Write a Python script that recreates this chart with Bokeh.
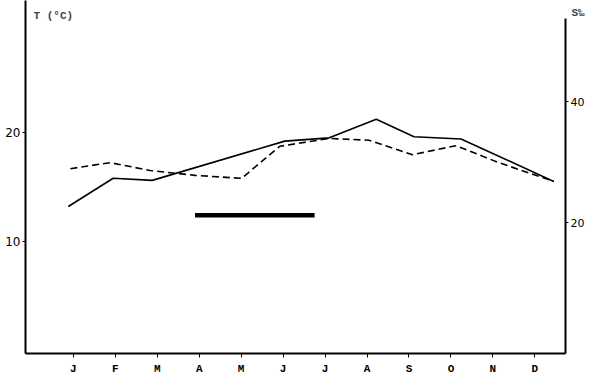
from bokeh.plotting import figure
from bokeh.models import Range1d, LinearAxis, FixedTicker, Label
from bokeh.embed import file_html
from bokeh.resources import INLINE

months = ["J", "F", "M", "A", "M", "J", "J", "A", "S", "O", "N", "D"]
month_pos = list(range(1, 13))

temp_x = [0.88, 1.95, 2.88, 6.04, 7.1, 8.22, 9.12, 10.24, 12.45]
temp_y = [13.2, 15.8, 15.6, 19.2, 19.5, 21.2, 19.6, 19.4, 15.5]

sal_x = [0.93, 1.88, 2.83, 3.9, 5.01, 5.92, 7.1, 8.05, 9.08, 10.12, 11.14, 12.45]
sal_y = [28.9, 29.9, 28.6, 27.8, 27.3, 32.6, 33.9, 33.6, 31.2, 32.7, 29.9, 26.8]

bar_x = [3.9, 6.75]
bar_t = [12.4, 12.4]

left_ticks = [10, 20]
right_ticks = [20, 40]

p = figure(width=600, height=378, output_backend="svg", toolbar_location=None,
           x_range=Range1d(-0.14, 12.73), y_range=Range1d(-0.28, 32.1),
           min_border_left=25, min_border_right=0, min_border_top=0, min_border_bottom=25)
p.outline_line_color = None
p.grid.visible = False
p.background_fill_color = "white"
p.border_fill_color = "white"

p.extra_y_ranges = {"sal": Range1d(-1.65, 56.7)}

mono = "Liberation Mono"
sans = "DejaVu Sans"

# bottom axis
xa = p.xaxis[0]
xa.ticker = FixedTicker(ticks=month_pos)
xa.major_label_overrides = {i: m for i, m in zip(month_pos, months)}
xa.axis_line_width = 2
xa.major_tick_in = 0
xa.major_tick_out = 4
xa.minor_tick_out = 0
xa.minor_tick_in = 0
xa.major_label_standoff = 5
xa.major_label_text_font = mono
xa.major_label_text_font_style = "bold"
xa.major_label_text_font_size = "11px"
xa.major_label_text_color = "black"

# left axis
ya = p.yaxis[0]
ya.ticker = FixedTicker(ticks=left_ticks)
ya.axis_line_width = 2
ya.major_tick_in = 0
ya.major_tick_out = 3
ya.minor_tick_out = 0
ya.minor_tick_in = 0
ya.major_label_standoff = 2
ya.major_label_text_font = sans
ya.major_label_text_font_size = "12px"
ya.major_label_text_color = "black"

# right axis
ra = LinearAxis(y_range_name="sal", ticker=FixedTicker(ticks=right_ticks), bounds=(-1.65, 53.7))
ra.axis_line_width = 2
ra.major_tick_in = 0
ra.major_tick_out = 3
ra.minor_tick_out = 0
ra.minor_tick_in = 0
ra.major_label_standoff = 2
ra.major_label_text_font = sans
ra.major_label_text_font_size = "11px"
ra.major_label_text_color = "black"
p.add_layout(ra, "right")

p.line(temp_x, temp_y, line_color="black", line_width=1.6)
p.line(sal_x, sal_y, y_range_name="sal", line_color="black", line_width=1.6, line_dash="7 4")
p.line(bar_x, bar_t, line_color="black", line_width=4.5)

p.add_layout(Label(x=0.05, y=30.7, text="T (°C)", text_font=mono, text_font_style="bold",
                   text_font_size="11px", text_baseline="middle"))
p.add_layout(Label(x=-16, y=341, x_units="screen", y_units="screen", text="S‰",
                   text_font=mono, text_font_style="bold",
                   text_font_size="11px", text_baseline="middle"), "right")

open("out.html", "w").write(file_html(p, INLINE))
